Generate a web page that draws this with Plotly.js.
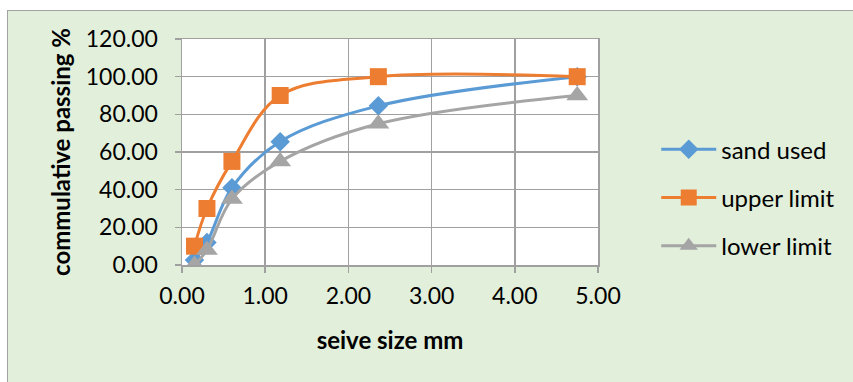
<!DOCTYPE html>
<html>
<head>
<meta charset="utf-8">
<script src="https://cdn.plot.ly/plotly-3.0.1.min.js"></script>
<style>
  html, body { margin: 0; padding: 0; background: #ffffff; }
  #frame {
    position: absolute; left: 7px; top: 10px; width: 860px; height: 390px;
    background: #E2EFDA; border: 1.5px solid #A3A3A3; box-sizing: border-box;
  }
  #chart { position: absolute; left: 0; top: 0; width: 853px; height: 382px; }
</style>
</head>
<body>
<div id="frame"></div>
<div id="chart"></div>
<script>
// Sieve sizes (mm) and cumulative passing percentages
const sieveSizes = [0.15, 0.30, 0.60, 1.18, 2.36, 4.75];
const sandUsed   = [2.6, 12.0, 41.0, 65.5, 84.5, 100.0];
const upperLimit = [10, 30, 55, 90, 100, 100];
const lowerLimit = [0, 8, 35, 55, 75, 90];
const seriesNames = ['sand used', 'upper limit', 'lower limit'];
const xTickVals = [0, 1, 2, 3, 4, 5];
const yTickVals = [0, 20, 40, 60, 80, 100, 120];

const fontFamily = 'Lato, "Open Sans", sans-serif';
const gridCol = '#A0A0A0';

function series(name, y, color, symbol, size, group) {
  return {
    x: sieveSizes, y: y, name: name, type: 'scatter', mode: 'lines+markers',
    legendgroup: group,
    line: { color: color, width: 3, shape: 'spline', smoothing: 1 },
    marker: { color: color, symbol: symbol, size: size }
  };
}

const traces = [
  series(seriesNames[0], sandUsed, '#5B9BD5', 'diamond', 15, 'a'),
  series(seriesNames[1], upperLimit, '#ED7D31', 'square', 17, 'b'),
  series(seriesNames[2], lowerLimit, '#A5A5A5', 'triangle-up', 19, 'c')
];

const layout = {
  width: 853, height: 382,
  margin: { l: 182, r: 255, t: 39, b: 117, pad: 0 },
  paper_bgcolor: 'rgba(0,0,0,0)',
  plot_bgcolor: '#ffffff',
  font: { family: fontFamily, color: '#000000', size: 24 },
  showlegend: true,
  legend: {
    x: 1.14, xanchor: 'left', y: 0.61, yanchor: 'top',
    bgcolor: 'rgba(0,0,0,0)', font: { size: 24, family: fontFamily },
    traceorder: 'grouped', tracegroupgap: 14, itemwidth: 55
  },
  xaxis: {
    range: [0, 5], tickvals: xTickVals,
    ticktext: xTickVals.map(v => v.toFixed(2)),
    showgrid: true, gridcolor: gridCol, gridwidth: 1.5,
    zeroline: false, showline: true, linecolor: gridCol, linewidth: 1.5, mirror: true,
    ticks: 'outside', ticklen: 6, tickcolor: gridCol, tickwidth: 1.5,
    ticklabelstandoff: 4,
    tickfont: { size: 23 }, automargin: false,
    title: { text: 'seive size mm', font: { size: 24, family: fontFamily, weight: 'bold' }, standoff: 24 }
  },
  yaxis: {
    range: [0, 120], tickvals: yTickVals,
    ticktext: yTickVals.map(v => v.toFixed(2)),
    showgrid: true, gridcolor: gridCol, gridwidth: 1.5,
    zeroline: false, showline: true, linecolor: gridCol, linewidth: 1.5, mirror: true,
    ticks: 'outside', ticklen: 6, tickcolor: gridCol, tickwidth: 1.5,
    ticklabelstandoff: 12,
    tickfont: { size: 23 }, automargin: false,
    title: { text: 'commulative passing %', font: { size: 24, family: fontFamily, weight: 'bold' }, standoff: 8 }
  }
};

Plotly.newPlot('chart', traces, layout, { displayModeBar: false, staticPlot: true });
</script>
</body>
</html>
